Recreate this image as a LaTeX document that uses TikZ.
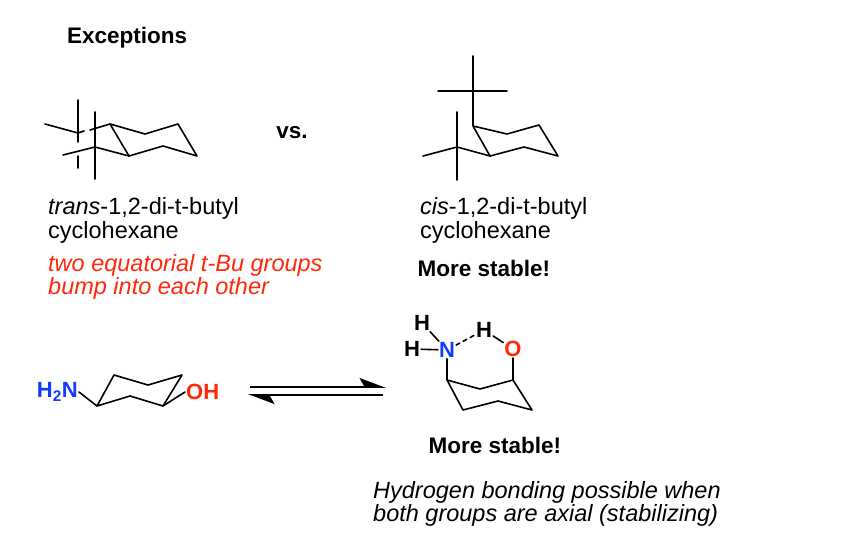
\documentclass[tikz,border=0pt]{standalone}
\usepackage{fontspec}
\setmainfont{Liberation Sans}
\usetikzlibrary{arrows.meta}
\definecolor{nblue}{RGB}{20,60,255}
\definecolor{ored}{RGB}{255,40,10}
\begin{document}
\begin{tikzpicture}[x=1pt,y=-1pt,
 bond/.style={line width=1.6pt,line cap=round,line join=round},
 txt/.style={anchor=west,inner sep=0pt,font=\fontsize{23.5}{26}\selectfont},
 btxt/.style={inner sep=0pt,font=\fontsize{22.5}{26}\selectfont\bfseries},
 atom/.style={inner sep=1pt,font=\fontsize{22}{24}\selectfont\bfseries},
 eqarr/.style={line width=1.8pt,-{Stealth[left,length=24pt,width=18pt,inset=5pt]}}]
\useasboundingbox (0,0) rectangle (868,552);
% trans chair
\coordinate (a1) at (110,124); \coordinate (b1) at (145,134); \coordinate (c1) at (178,124);
\coordinate (d1) at (197,156); \coordinate (e1) at (163,146); \coordinate (f1) at (129,156);
\draw[bond] (a1)--(b1)--(c1)--(d1)--(e1)--(f1)--cycle;
\coordinate (t1) at (78,133); \coordinate (t2) at (95,147);
\draw[bond] (a1)--(90,130); \draw[bond] (t1)--(45,124); \draw[bond] (t1)--(78,100); \draw[bond] (t1)--(78,142);
\draw[bond] (78,156)--(78,168); \draw[bond] (t1)--(84,131);
\draw[bond] (f1)--(t2)--(63,155); \draw[bond] (95,112)--(95,179);
% cis chair
\coordinate (a2) at (473,126); \coordinate (b2) at (507,134); \coordinate (c2) at (539,125);
\coordinate (d2) at (558,156); \coordinate (e2) at (524,147); \coordinate (f2) at (490,156);
\draw[bond] (a2)--(b2)--(c2)--(d2)--(e2)--(f2)--cycle;
\coordinate (u1) at (473,91); \coordinate (u2) at (457,147);
\draw[bond] (a2)--(u1)--(473,56); \draw[bond] (438,91)--(507,91);
\draw[bond] (f2)--(u2)--(423,156); \draw[bond] (457,112)--(457,180);
% texts top
\node[btxt,anchor=west] (exc) at (67,38) {Exceptions};
\node[btxt] (vs) at (292,133) {vs.};
\node[txt] (tr1) at (48,208) {\textit{trans}-1,2-di-t-butyl};
\node[txt] (tr2) at (48,232) {cyclohexane};
\node[txt,text=ored] (r1) at (48,265) {\itshape two equatorial t-Bu groups};
\node[txt,text=ored] (r2) at (48,288) {\itshape bump into each other};
\node[txt] (ci1) at (420,208) {\textit{cis}-1,2-di-t-butyl};
\node[txt] (ci2) at (420,232) {cyclohexane};
\node[btxt] (ms1) at (484,268) {More stable!};
% amino chair
\coordinate (p1) at (97,406); \coordinate (p2) at (114,375); \coordinate (p3) at (148,385);
\coordinate (p4) at (182,375); \coordinate (p5) at (163,406); \coordinate (p6) at (130,396);
\draw[bond] (p1)--(p2)--(p3)--(p4)--(p5)--(p6)--cycle;
\node[atom,text=nblue,anchor=east] (nh2) at (79,392) {H\textsubscript{2}N};
\node[atom,text=ored,anchor=west] (oh) at (185,392) {OH};
\draw[bond] (nh2.east)--(p1); \draw[bond] (p5)--(oh.west);
% equilibrium
\coordinate (e1a) at (250,387); \coordinate (e1b) at (386,387);
\coordinate (e2a) at (248,395); \coordinate (e2b) at (383,395);
\draw[eqarr] (e1a)--(e1b);
\draw[eqarr] (e2b)--(e2a);
% axial chair
\coordinate (q1) at (447,380); \coordinate (q2) at (480,389); \coordinate (q3) at (513,380);
\coordinate (q4) at (532,410); \coordinate (q5) at (498,401); \coordinate (q6) at (463,410);
\draw[bond] (q1)--(q2)--(q3)--(q4)--(q5)--(q6)--cycle;
\node[atom,text=nblue] (N) at (447,350) {N};
\node[atom,text=ored] (O) at (513,349) {O};
\node[atom] (H1) at (422,323) {H};
\node[atom] (H2) at (412,349) {H};
\node[atom] (H3) at (484,330) {H};
\draw[bond] (N)--(q1); \draw[bond] (O)--(q3);
\draw[bond] (H1)--(N); \draw[bond] (H2)--(N); \draw[bond] (H3)--(O);
\draw[bond,dash pattern=on 4pt off 4pt] (N)--(H3);
\node[btxt] (ms2) at (495,445) {More stable!};
\node[txt] (hb1) at (373,492) {\itshape Hydrogen bonding possible when};
\node[txt] (hb2) at (373,515) {\itshape both groups are axial (stabilizing)};
\end{tikzpicture}
\end{document}
